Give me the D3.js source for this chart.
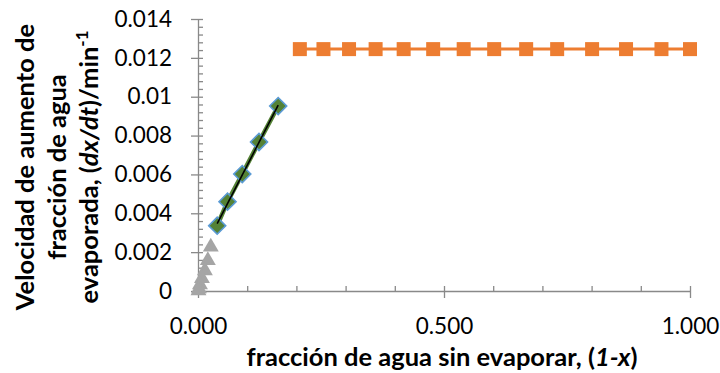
<!DOCTYPE html>
<html>
<head>
<meta charset="utf-8">
<script src="https://cdn.jsdelivr.net/npm/d3@7"></script>
<style>
  html, body { margin: 0; padding: 0; background: #fff; }
  svg { display: block; }
  .tick text { font-family: Lato, "Open Sans", sans-serif; fill: #000; }
</style>
</head>
<body>
<svg id="chart" width="720" height="373"></svg>
<script>
// Rate of increase of evaporated water fraction vs. unevaporated fraction
const constantRateX = [0.207, 0.255, 0.307, 0.361, 0.418, 0.478, 0.540, 0.602, 0.667, 0.730, 0.801, 0.870, 0.942, 1.000];
const constantRateY = [0.01245, 0.01245, 0.01245, 0.01245, 0.01245, 0.01245, 0.01245, 0.01245, 0.01245, 0.01245, 0.01245, 0.01245, 0.01245, 0.01245];

const fallingRateX = [0.039, 0.060, 0.090, 0.124, 0.163];
const fallingRateY = [0.00336, 0.00460, 0.00602, 0.00767, 0.00952];

const finalStageX = [0.026, 0.020, 0.014, 0.008, 0.004, 0.002, 0.001];
const finalStageY = [0.00235, 0.00165, 0.00113, 0.00072, 0.00041, 0.00020, 0.00010];

const xMajorTicks = [0, 0.5, 1];
const xTickLabels = ["0.000", "0.500", "1.000"];
const yMajorTicks = [0, 0.002, 0.004, 0.006, 0.008, 0.01, 0.012, 0.014];
const yTickLabels = ["0", "0.002", "0.004", "0.006", "0.008", "0.01", "0.012", "0.014"];

const svg = d3.select("#chart");
const axisColor = "#898989";
const tickFont = "22.5px";

const x = d3.scaleLinear().domain([0, 1]).range([198, 690]);
const y = d3.scaleLinear().domain([0, 0.014]).range([291, 19]);

const xMinor = d3.range(0, 1.0001, 0.1);
const yMinor = d3.range(0, 0.01401, 0.0004);

// Y axis: outer major ticks with labels, inner minor ticks
const gyMajor = svg.append("g")
  .attr("transform", `translate(${x(0)},0)`)
  .call(d3.axisLeft(y).tickValues(yMajorTicks)
    .tickFormat((d, i) => yTickLabels[i])
    .tickSizeInner(7).tickSizeOuter(0).tickPadding(19));
const gyMinor = svg.append("g")
  .attr("transform", `translate(${x(0)},0)`)
  .call(d3.axisRight(y).tickValues(yMinor).tickFormat("")
    .tickSizeInner(5).tickSizeOuter(0));

// X axis: major ticks crossing below with labels, minor ticks above
const gxMajor = svg.append("g")
  .attr("transform", `translate(0,${y(0)})`)
  .call(d3.axisBottom(x).tickValues(xMajorTicks)
    .tickFormat((d, i) => xTickLabels[i])
    .tickSizeInner(7).tickSizeOuter(0).tickPadding(20));
const gxMinor = svg.append("g")
  .attr("transform", `translate(0,${y(0)})`)
  .call(d3.axisTop(x).tickValues(xMinor).tickFormat("")
    .tickSizeInner(5).tickSizeOuter(0));

[gyMajor, gyMinor, gxMajor, gxMinor].forEach(g => {
  g.selectAll("path.domain").attr("stroke", axisColor).attr("stroke-width", 1.3);
  g.selectAll(".tick line").attr("stroke", axisColor).attr("stroke-width", 1.3);
  g.selectAll(".tick text").style("font-size", tickFont);
});
gyMinor.select("path.domain").remove();
gxMinor.select("path.domain").remove();

const line = d3.line().x(d => x(d[0])).y(d => y(d[1]));

// Final stage: grey triangles
const triData = finalStageX.map((v, i) => [v, finalStageY[i]]);
svg.append("g").selectAll("path").data(triData).join("path")
  .attr("d", d3.symbol(d3.symbolTriangle, 110))
  .attr("transform", d => `translate(${x(d[0])},${y(d[1]) + 1.5})`)
  .attr("fill", "#A5A5A5");

// Falling-rate stage: green line and diamonds with blue edge
const greenData = fallingRateX.map((v, i) => [v, fallingRateY[i]]);
svg.append("path").datum(greenData)
  .attr("d", line).attr("fill", "none")
  .attr("stroke", "#548235").attr("stroke-width", 4.5);
svg.append("g").selectAll("path").data(greenData).join("path")
  .attr("d", d3.symbol(d3.symbolSquare, 145))
  .attr("transform", d => `translate(${x(d[0])},${y(d[1])}) rotate(45)`)
  .attr("fill", "#548235").attr("stroke", "#5B9BD5").attr("stroke-width", 1.6);

// Linear trend line over the falling-rate points
const mx = d3.mean(fallingRateX), my = d3.mean(fallingRateY);
const slope = d3.sum(fallingRateX, (v, i) => (v - mx) * (fallingRateY[i] - my)) /
              d3.sum(fallingRateX, v => (v - mx) * (v - mx));
const icpt = my - slope * mx;
const xExt = d3.extent(fallingRateX);
svg.append("path")
  .datum(xExt.map(v => [v, icpt + slope * v]))
  .attr("d", line).attr("fill", "none")
  .attr("stroke", "#000").attr("stroke-width", 1.6);

// Constant-rate stage: orange line and squares
const orangeData = constantRateX.map((v, i) => [v, constantRateY[i]]);
svg.append("path").datum(orangeData)
  .attr("d", line).attr("fill", "none")
  .attr("stroke", "#ED7D31").attr("stroke-width", 3);
svg.append("g").selectAll("rect").data(orangeData).join("rect")
  .attr("x", d => x(d[0]) - 7).attr("y", d => y(d[1]) - 7)
  .attr("width", 14).attr("height", 14)
  .attr("fill", "#ED7D31");

// Axis titles
const titleFont = 'Lato, "Open Sans", sans-serif';
const titleSize = "25.5px";
const xt = svg.append("text")
  .attr("x", 442).attr("y", 366)
  .attr("text-anchor", "middle")
  .style("font-family", titleFont).style("font-weight", "bold").style("font-size", titleSize);
xt.append("tspan").text("fracción de agua sin evaporar, (");
xt.append("tspan").style("font-style", "italic").text("1-x");
xt.append("tspan").text(")");

const yTitle = svg.append("g")
  .style("font-family", titleFont).style("font-weight", "bold").style("font-size", titleSize);
yTitle.append("text")
  .attr("transform", "translate(34,167) rotate(-90)")
  .attr("text-anchor", "middle")
  .text("Velocidad de aumento de");
yTitle.append("text")
  .attr("transform", "translate(66,167) rotate(-90)")
  .attr("text-anchor", "middle")
  .text("fracción de agua");
const l3 = yTitle.append("text")
  .attr("transform", "translate(98,167) rotate(-90)")
  .attr("text-anchor", "middle");
l3.append("tspan").text("evaporada, (");
l3.append("tspan").style("font-style", "italic").text("dx/dt");
l3.append("tspan").text(")/min");
l3.append("tspan").attr("dy", -10).style("font-size", "17px").text("-1");
</script>
</body>
</html>
